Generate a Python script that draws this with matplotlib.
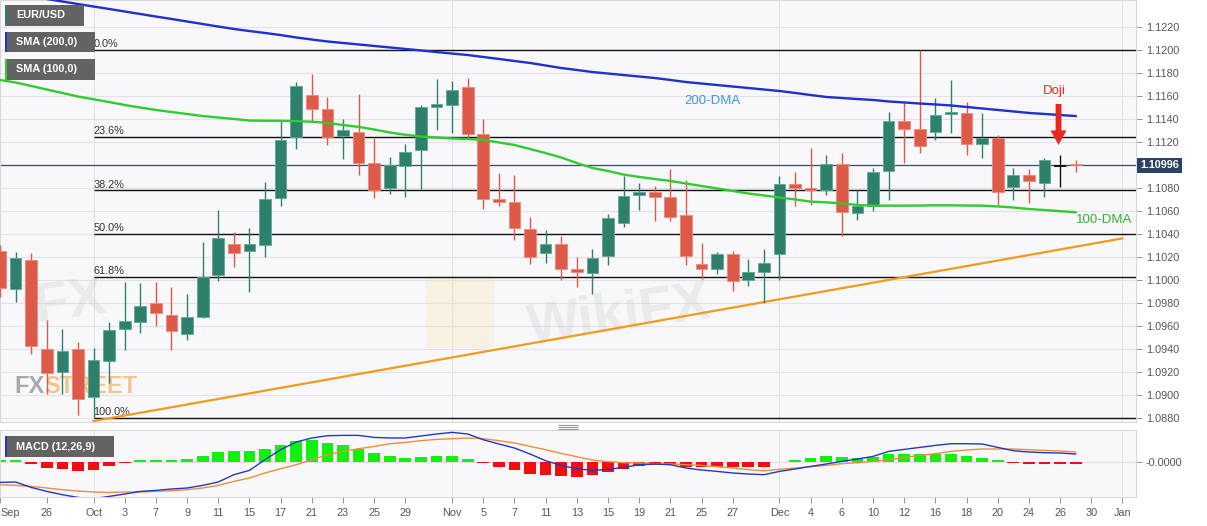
import matplotlib
matplotlib.use("Agg")
import matplotlib.pyplot as plt
import numpy as np
from matplotlib.patches import Rectangle, FancyBboxPatch
from matplotlib.transforms import blended_transform_factory

plt.rcParams['font.family'] = ['Liberation Sans', 'DejaVu Sans']

# EUR/USD daily bars, weekdays from 23 Sep 2019 to 27 Dec 2019
opens = [1.1025, 1.0992, 1.1017, 1.0940, 1.0920, 1.0940, 1.0898, 1.0929, 1.0957, 1.0963,
         1.0980, 1.0969, 1.0953, 1.0968, 1.1004, 1.1031, 1.1025, 1.1030, 1.1071, 1.1124,
         1.1161, 1.1149, 1.1125, 1.1129, 1.1102, 1.1080, 1.1099, 1.1113, 1.1150, 1.1152,
         1.1168, 1.1127, 1.1070, 1.1068, 1.1044, 1.1023, 1.1031, 1.1009, 1.1006, 1.1021,
         1.1049, 1.1074, 1.1076, 1.1072, 1.1056, 1.1014, 1.1009, 1.1022, 1.1000, 1.1007,
         1.1022, 1.1083, 1.1080, 1.1078, 1.1101, 1.1058, 1.1064, 1.1095, 1.1138, 1.1131,
         1.1129, 1.1144, 1.1145, 1.1118, 1.1123, 1.1081, 1.1091, 1.1084, 1.1099, 1.1101]
highs = [1.1030, 1.1024, 1.1023, 1.0965, 1.0957, 1.0946, 1.0941, 1.0963, 1.0998, 1.0997,
         1.0998, 1.0994, 1.0988, 1.1033, 1.1061, 1.1042, 1.1045, 1.1085, 1.1139, 1.1172,
         1.1179, 1.1159, 1.1140, 1.1162, 1.1123, 1.1107, 1.1118, 1.1152, 1.1175, 1.1173,
         1.1176, 1.1140, 1.1093, 1.1091, 1.1055, 1.1043, 1.1038, 1.1020, 1.1027, 1.1057,
         1.1090, 1.1084, 1.1082, 1.1096, 1.1087, 1.1032, 1.1024, 1.1025, 1.1018, 1.1027,
         1.1090, 1.1094, 1.1115, 1.1109, 1.1110, 1.1078, 1.1097, 1.1146, 1.1154, 1.1200,
         1.1158, 1.1174, 1.1155, 1.1145, 1.1126, 1.1097, 1.1096, 1.1106, 1.1109, 1.1104]
lows = [1.0985, 1.0981, 1.0935, 1.0901, 1.0901, 1.0882, 1.0880, 1.0910, 1.0939, 1.0954,
        1.0960, 1.0939, 1.0948, 1.0967, 1.0999, 1.1011, 1.0989, 1.1020, 1.1064, 1.1114,
        1.1138, 1.1117, 1.1105, 1.1091, 1.1071, 1.1075, 1.1072, 1.1079, 1.1130, 1.1128,
        1.1123, 1.1062, 1.1064, 1.1035, 1.1014, 1.1015, 1.1000, 1.0994, 1.0988, 1.1013,
        1.1046, 1.1061, 1.1051, 1.1051, 1.1013, 1.1001, 1.1005, 1.0990, 1.0995, 1.0980,
        1.1000, 1.1064, 1.1065, 1.1074, 1.1038, 1.1052, 1.1060, 1.1069, 1.1102, 1.1110,
        1.1122, 1.1128, 1.1109, 1.1106, 1.1065, 1.1069, 1.1067, 1.1072, 1.1081, 1.1094]
closes = [1.0993, 1.1019, 1.0942, 1.0919, 1.0938, 1.0896, 1.0930, 1.0956, 1.0964, 1.0977,
          1.0971, 1.0955, 1.0968, 1.1002, 1.1036, 1.1023, 1.1031, 1.1070, 1.1122, 1.1169,
          1.1149, 1.1124, 1.1130, 1.1102, 1.1078, 1.1100, 1.1111, 1.1150, 1.1153, 1.1165,
          1.1127, 1.1070, 1.1068, 1.1045, 1.1020, 1.1031, 1.1009, 1.1007, 1.1019, 1.1054,
          1.1073, 1.1076, 1.1072, 1.1055, 1.1021, 1.1009, 1.1022, 1.0999, 1.1007, 1.1015,
          1.1083, 1.1080, 1.1078, 1.1101, 1.1059, 1.1064, 1.1094, 1.1138, 1.1131, 1.1116,
          1.1143, 1.1146, 1.1118, 1.1123, 1.1076, 1.1091, 1.1086, 1.1104, 1.1099, 1.10996]

sma200 = [1.12505, 1.12487, 1.12461, 1.12444, 1.12422, 1.12400, 1.12378, 1.12357, 1.12335, 1.12313,
          1.12291, 1.12270, 1.12248, 1.12226, 1.12204, 1.12183, 1.12165, 1.12148, 1.12130, 1.12109,
          1.12091, 1.12074, 1.12061, 1.12048, 1.12035, 1.12022, 1.12009, 1.11996, 1.11982, 1.11969,
          1.11956, 1.11939, 1.11922, 1.11904, 1.11887, 1.11865, 1.11843, 1.11826, 1.11808, 1.11795,
          1.11782, 1.11769, 1.11756, 1.11739, 1.11721, 1.11708, 1.11695, 1.11682, 1.11669, 1.11656,
          1.11643, 1.11626, 1.11608, 1.11591, 1.11582, 1.11573, 1.11565, 1.11552, 1.11543, 1.11534,
          1.11526, 1.11517, 1.11504, 1.11491, 1.11478, 1.11465, 1.11452, 1.11443, 1.11434, 1.11425]
sma100 = [1.11739, 1.11717, 1.11687, 1.11656, 1.11626, 1.11595, 1.11571, 1.11547, 1.11521, 1.11499,
          1.11478, 1.11460, 1.11443, 1.11425, 1.11412, 1.11399, 1.11386, 1.11384, 1.11384, 1.11380,
          1.11376, 1.11365, 1.11347, 1.11331, 1.11308, 1.11282, 1.11262, 1.11247, 1.11238, 1.11230,
          1.11225, 1.11218, 1.11195, 1.11173, 1.11138, 1.11103, 1.11064, 1.11016, 1.10973, 1.10947,
          1.10916, 1.10895, 1.10877, 1.10860, 1.10838, 1.10816, 1.10795, 1.10773, 1.10751, 1.10734,
          1.10716, 1.10699, 1.10680, 1.10674, 1.10664, 1.10651, 1.10645, 1.10645, 1.10645, 1.10646,
          1.10648, 1.10648, 1.10646, 1.10645, 1.10638, 1.10629, 1.10616, 1.10607, 1.10597, 1.10588]

# MACD (12,26,9) in pips (1e-4)
macd_line = [-20.7, -20.3, -25.7, -29.7, -33.0, -35.7, -37.0, -34.7, -32.3, -29.7,
             -28.7, -27.3, -26.3, -23.7, -20.3, -13.0, -8.7, 2.0, 12.0, 19.7,
             23.7, 26.0, 26.3, 26.3, 24.3, 23.7, 23.7, 25.7, 27.7, 29.3,
             27.7, 22.0, 17.7, 13.7, 7.7, 1.0, -3.7, -7.0, -8.7, -7.7,
             -5.7, -3.0, -2.3, -3.0, -6.3, -8.3, -9.7, -11.3, -12.3, -13.0,
             -9.7, -7.3, -4.7, -2.3, 0.3, 2.7, 5.3, 10.3, 12.3, 14.3,
             16.3, 18.0, 18.0, 17.7, 14.3, 11.0, 9.7, 9.0, 8.7, 7.7]
signal_line = [-23.0, -23.7, -24.7, -26.3, -28.0, -29.3, -30.3, -30.7, -30.3, -30.3,
               -29.7, -29.0, -28.0, -26.3, -23.7, -19.7, -16.3, -11.3, -7.0, -3.0,
               2.0, 7.0, 10.3, 13.0, 15.3, 18.0, 19.3, 21.0, 22.3, 23.0,
               23.7, 23.0, 21.0, 18.7, 15.3, 12.0, 8.3, 5.0, 1.7, 0.0,
               -1.0, -1.3, -2.0, -2.3, -3.0, -3.7, -5.0, -6.3, -8.0, -9.0,
               -7.7, -6.3, -5.0, -3.7, -2.0, -1.0, 0.3, 2.0, 4.0, 6.3,
               8.0, 10.3, 11.7, 12.7, 12.7, 12.7, 12.0, 11.3, 10.7, 9.7]
macd_hist = [0.5, 0.3, -2.0, -6.3, -7.0, -9.0, -8.0, -4.7, -1.5, 0.5,
             1.0, 2.0, 3.0, 6.0, 9.7, 10.3, 11.0, 13.0, 17.0, 21.0,
             21.3, 18.7, 16.3, 12.7, 8.7, 5.3, 3.7, 5.0, 5.3, 5.3,
             3.0, -0.7, -5.3, -8.7, -12.0, -13.0, -14.7, -15.0, -13.3, -10.3,
             -7.0, -4.0, -3.0, -2.5, -5.0, -5.7, -5.7, -5.7, -5.7, -5.3,
             0.0, 2.0, 3.3, 5.7, 4.3, 3.3, 4.3, 7.3, 8.0, 7.3,
             8.0, 8.0, 5.7, 3.7, 0.7, -0.3, -2.0, -2.0, -2.0, -2.0]

tick_days = [0, 3, 6, 8, 10, 12, 14, 16, 18, 20, 22, 24, 26, 29, 31, 33, 35, 37, 39,
             41, 43, 45, 47, 50, 52, 54, 56, 58, 60, 62, 64, 66, 68, 70, 72]
tick_labels = ["Sep", "26", "Oct", "3", "7", "9", "11", "15", "17", "21", "23", "25", "29",
               "Nov", "5", "7", "11", "13", "15", "19", "21", "25", "27",
               "Dec", "4", "6", "10", "12", "16", "18", "20", "24", "26", "30", "Jan"]
month_days = [6, 29, 50, 72]

fib_start = 6
fib_high, fib_low = 1.1200, 1.0880
fib_ratios = [0.0, 0.236, 0.382, 0.5, 0.618, 1.0]
trend_days = [6, 72]
trend_prices = [1.0877, 1.1036]
last_price = 1.10996

W, H = 1207, 526
fig = plt.figure(figsize=(W / 100, H / 100), dpi=100)
fig.patch.set_facecolor("white")


def px_axes(x0, y0, x1, y1):
    return fig.add_axes([x0 / W, 1 - y1 / H, (x1 - x0) / W, (y1 - y0) / H])


ax = px_axes(0, 0, 1136, 422)
axm = px_axes(0, 430, 1136, 497)
XMAX = 72.87
bg = "#f8f8fa"
grid_c = "#e2e2e8"

for a in (ax, axm):
    a.set_facecolor(bg)
    a.set_xlim(0, XMAX)
    for s in a.spines.values():
        s.set_color("#d8d8d8")
        s.set_linewidth(0.8)
    for d in month_days:
        a.axvline(d, color=grid_c, lw=0.8, zorder=0)

# ---- price panel
ax.set_ylim(1.08762, 1.12435)
yt = np.round(np.arange(1.088, 1.1221, 0.002), 4)
ax.set_yticks(yt)
# the 1.1100 label sits under the last-price tag
ax.set_yticklabels(["" if abs(v - last_price) < 0.0005 else f"{v:.4f}" for v in yt])
ax.yaxis.tick_right()
ax.tick_params(axis="y", direction="out", length=4, color="#999999",
               labelsize=7.8, labelcolor="#555555", pad=3)
ax.tick_params(axis="x", length=0, labelbottom=False)
ax.set_xticks([])
for v in yt:
    ax.axhline(v, color=grid_c, lw=0.8, zorder=0)

# watermarks (behind data)
ax.text(0.545, 0.25, "WikiFX", transform=ax.transAxes, fontsize=40, fontweight="bold",
        color="#d2d2d2", alpha=0.35, rotation=8, ha="center", va="center", zorder=0.5)
ax.add_patch(FancyBboxPatch((0.38, 0.18), 0.05, 0.16, boxstyle="round,pad=0.005",
                            transform=ax.transAxes, fc="#f3e2a8", ec="none", alpha=0.3, zorder=0.5))
ax.text(0.055, 0.28, "iFX", transform=ax.transAxes, fontsize=40, fontweight="bold",
        color="#d2d2d2", alpha=0.35, rotation=8, ha="center", va="center", zorder=0.5)
ax.text(0.013, 0.085, "FX", transform=ax.transAxes, fontsize=17, fontweight="bold",
        color="#8f8f8f", alpha=0.75, ha="left", va="center", zorder=0.6)
ax.text(0.039, 0.085, "STREET", transform=ax.transAxes, fontsize=17, fontweight="bold",
        color="#f2b36a", alpha=0.75, ha="left", va="center", zorder=0.6)

# fibonacci retracement levels
for r in fib_ratios:
    lvl = fib_high - r * (fib_high - fib_low)
    ax.hlines(lvl, fib_start, XMAX, color="#111111", lw=1.0, zorder=2)
    ax.annotate(f"{r * 100:.1f}%", (fib_start, lvl), xytext=(0, 0.5),
                textcoords="offset points", ha="left", va="bottom",
                fontsize=7.8, color="#333333", zorder=2)

ax.axhline(last_price, color="#3b4d66", lw=0.9, zorder=2)
ax.plot(trend_days, trend_prices, color="#f39a1e", lw=1.6, zorder=3)

# candles
x = np.arange(len(opens))
o = np.array(opens)
c = np.array(closes)
up_c, dn_c, doji_c = "#2e7f6c", "#dc5a47", "#111111"
cols = [up_c if cc > oo else dn_c if cc < oo else doji_c for oo, cc in zip(o, c)]
edges = ["#5fa896" if cc > oo else "#f08878" if cc < oo else doji_c for oo, cc in zip(o, c)]
ax.vlines(x, lows, highs, colors=cols, lw=1.0, zorder=4)
ax.bar(x, np.abs(c - o), 0.75, bottom=np.minimum(o, c), color=cols,
       edgecolor=edges, lw=0.6, zorder=5)
for xi, oo, cc in zip(x, o, c):
    if oo == cc:
        ax.hlines(oo, xi - 0.4, xi + 0.4, color=doji_c, lw=1.3, zorder=5)

ax.plot(x, sma200, color="#1f2fd0", lw=1.7, zorder=6)
ax.plot(x, sma100, color="#2fcc2f", lw=1.7, zorder=6)

ax.text(45.7, 1.11556, "200-DMA", color="#3a9ad9", fontsize=9.5, ha="center", va="center", zorder=7)
ax.text(69.0, 1.10520, "100-DMA", color="#2db52d", fontsize=9.5, ha="left", va="center",
        zorder=7, clip_on=False)
ax.text(67.65, 1.11646, "Doji", color="#e8281e", fontsize=9.5, ha="center", va="center", zorder=7)
ax.annotate("", xy=(67.9, 1.11173), xytext=(67.9, 1.11530),
            arrowprops=dict(facecolor="#e8281e", edgecolor="none", width=4.2,
                            headwidth=11.5, headlength=10.5, shrink=0), zorder=7)

tr = blended_transform_factory(ax.transAxes, ax.transData)
ax.text(1.0035, last_price, "1.10996", transform=tr, ha="left", va="center", color="white",
        fontsize=7.8, fontweight="bold", clip_on=False, zorder=8,
        bbox=dict(boxstyle="square,pad=0.25", fc="#2b4263", ec="none"))

# ---- MACD panel
axm.set_ylim(-35.3, 31.7)
axm.axhline(0, color="#e0e0e0", lw=0.8, zorder=1)
h = np.array(macd_hist)
h_draw = np.where((h != 0) & (np.abs(h) < 1.7), np.sign(h) * 1.7, h)
hcols = ["#12f012" if v > 0 else "#f40d0d" for v in h]
axm.bar(x, h_draw, 0.75, color=hcols, zorder=2)
axm.plot(x, signal_line, color="#f08c3c", lw=1.0, zorder=3)
axm.plot(x, macd_line, color="#2436c8", lw=1.0, zorder=4)
axm.yaxis.tick_right()
axm.set_yticks([0])
axm.set_yticklabels(["-0.0000"])
axm.tick_params(axis="y", direction="out", length=4, color="#999999",
                labelsize=7.8, labelcolor="#555555", pad=3)
axm.set_xticks(tick_days)
axm.set_xticklabels(tick_labels)
axm.tick_params(axis="x", direction="out", length=4, color="#999999",
                labelsize=7.8, labelcolor="#555555", pad=4)
axm.get_xticklabels()[0].set_horizontalalignment("left")

# ---- overlay: legend tags, resize handle
ov = fig.add_axes([0, 0, 1, 1])
ov.set_xlim(0, W)
ov.set_ylim(H, 0)
ov.axis("off")
ov.patch.set_alpha(0)

tags = [("EUR/USD", 5, 5, 84, 26, up_c),
        ("SMA (200,0)", 5, 32, 95, 52, "#1f2fd0"),
        ("SMA (100,0)", 5, 59, 95, 80, "#2fcc2f"),
        ("MACD (12,26,9)", 5, 436, 114, 457, "#2436c8")]
for label, x0, y0, x1, y1, strip in tags:
    ov.add_patch(Rectangle((x0, y0), x1 - x0, y1 - y0, fc="#636363", ec="none"))
    ov.add_patch(Rectangle((x0, y0), 2, y1 - y0, fc=strip, ec="none"))
    ov.text(x0 + 11, (y0 + y1) / 2, label, color="white", fontsize=7.8,
            fontweight="bold", ha="left", va="center")

ov.hlines([424.5, 426.5, 428.5], 558, 578, color="#9a9a9a", lw=0.8)

fig.savefig("out.png", dpi=100, facecolor="white")
